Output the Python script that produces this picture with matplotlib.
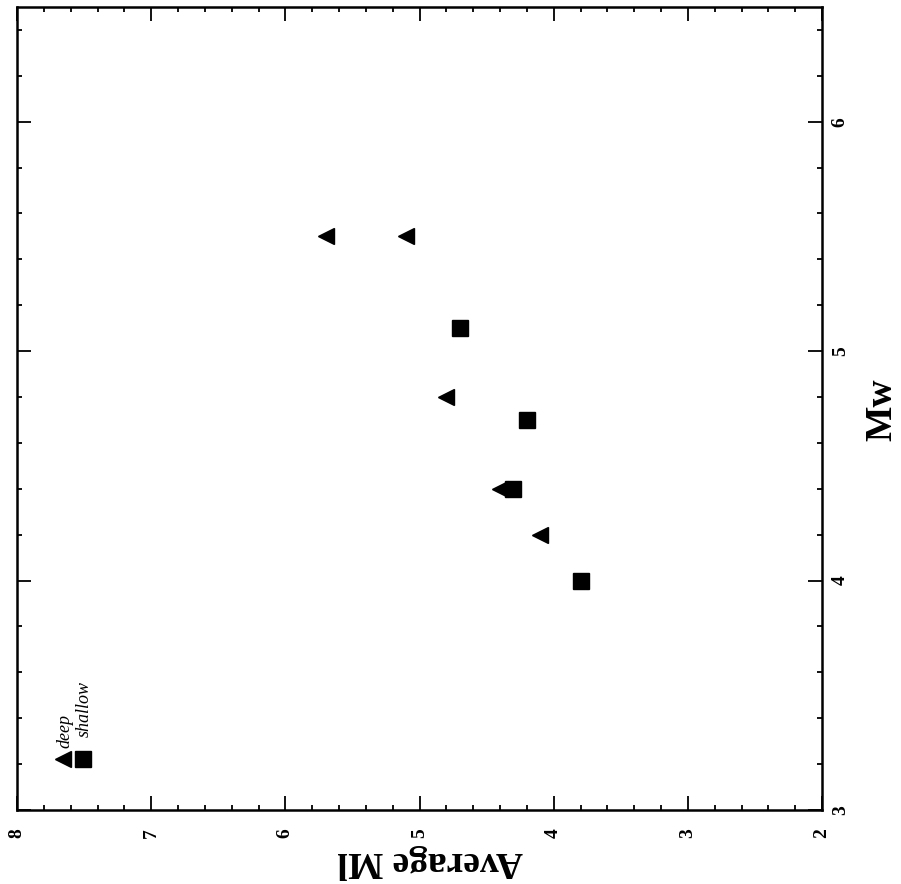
import matplotlib
matplotlib.use('Agg')
import matplotlib.pyplot as plt
from matplotlib.ticker import MultipleLocator

deep_mw = [5.5, 5.5, 4.8, 4.4, 4.2]
deep_ml = [5.7, 5.1, 4.8, 4.4, 4.1]
shallow_mw = [5.1, 4.7, 4.4, 4.0]
shallow_ml = [4.7, 4.2, 4.3, 3.8]

plt.rcParams['font.family'] = ['Liberation Serif', 'DejaVu Serif']

W, H = 901, 884
fig = plt.figure(figsize=(W / 100, H / 100), dpi=100)
# the page is turned 90 degrees: Mw runs up the right side, Ml runs right-to-left
ax = fig.add_axes([17 / W, 1 - 810 / H, (822 - 17) / W, (810 - 7) / H])

ax.plot(deep_ml, deep_mw, ls='none', marker='<', ms=12, color='black', mec='black')
ax.plot(shallow_ml, shallow_mw, ls='none', marker='s', ms=12, color='black', mec='black')

ax.set_xlim(8, 2)
ax.set_ylim(3, 6.5)
ax.xaxis.set_major_locator(MultipleLocator(1))
ax.xaxis.set_minor_locator(MultipleLocator(0.2))
ax.yaxis.set_major_locator(MultipleLocator(1))
ax.yaxis.set_minor_locator(MultipleLocator(0.2))

ax.tick_params(which='both', direction='in', top=True, bottom=True, left=True, right=True,
               labelleft=False, labelright=True, labelbottom=True, width=1.3)
ax.tick_params(which='major', length=10)
ax.tick_params(which='minor', length=3.5)
ax.tick_params(axis='x', which='major', pad=13)
ax.tick_params(axis='y', which='major', pad=7)
for lab in ax.get_xticklabels() + ax.get_yticklabels():
    lab.set_rotation(90)
    lab.set_fontsize(14)
    lab.set_fontweight('bold')
for lab in ax.get_xticklabels():
    lab.set_va('top')
    lab.set_ha('center')
for lab in ax.get_yticklabels():
    lab.set_va('center')
    lab.set_ha('left')
for sp in ax.spines.values():
    sp.set_linewidth(1.8)

# legend keys, turned like the rest of the page
ax.plot([0.0575], [0.0635], marker='<', ms=12, color='black', transform=ax.transAxes, clip_on=False)
ax.plot([0.0814], [0.0635], marker='s', ms=12, color='black', transform=ax.transAxes, clip_on=False)
ax.text(0.0596, 0.077, 'deep', rotation=90, ha='center', va='bottom', fontsize=13,
        style='italic', transform=ax.transAxes)
ax.text(0.0832, 0.091, 'shallow', rotation=90, ha='center', va='bottom', fontsize=13,
        style='italic', transform=ax.transAxes)

fig.text(430 / W, 1 - 862 / H, 'Average Ml', rotation=180, ha='center', va='center',
         fontsize=27, fontweight='bold')
fig.text(882 / W, 1 - 410 / H, 'Mw', rotation=90, ha='center', va='center',
         fontsize=27, fontweight='bold')

fig.savefig('out.png', dpi=100)
